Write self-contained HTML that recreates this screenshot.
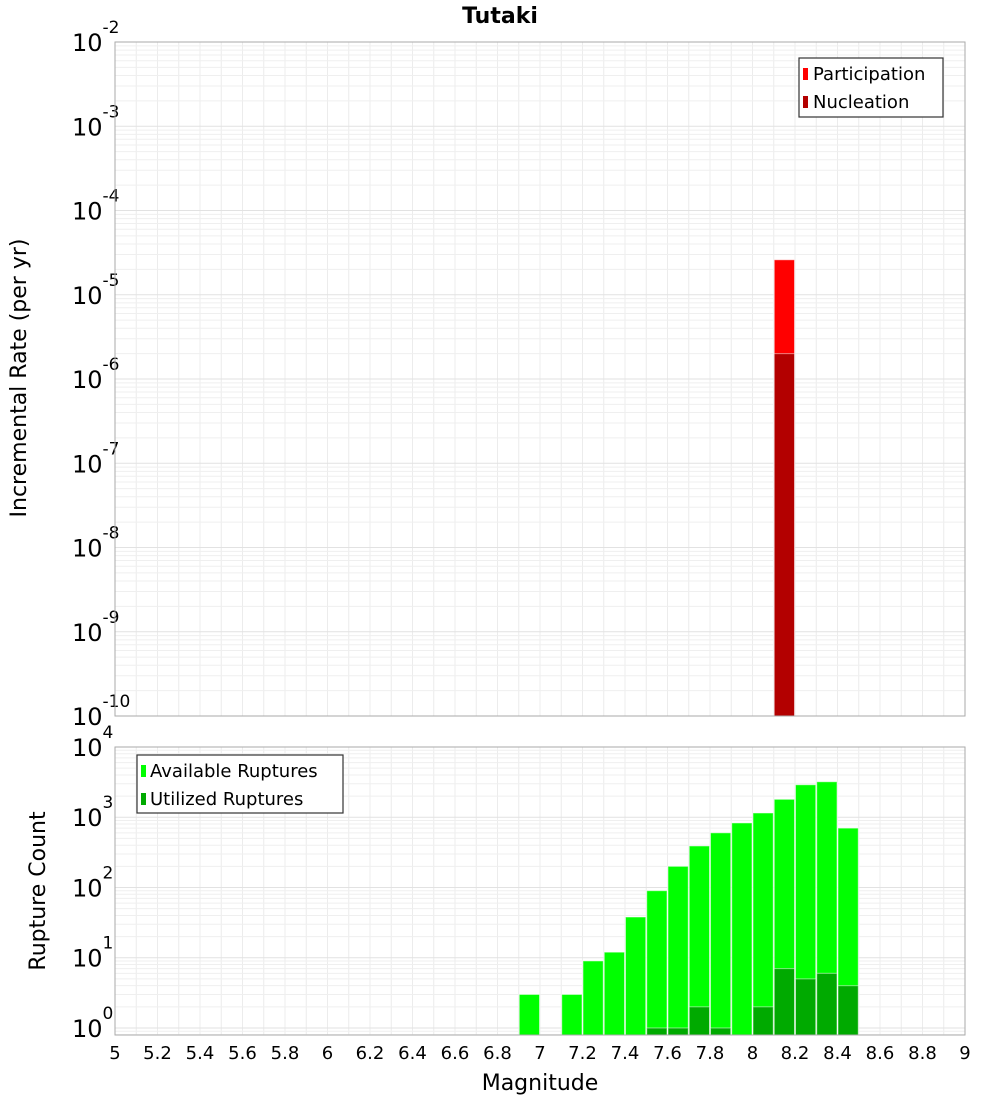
<!DOCTYPE html>
<html><head><meta charset="utf-8">
<style>
html,body{margin:0;padding:0;background:#fff;}
svg{display:block;font-family:"DejaVu Sans","Liberation Sans",sans-serif;}
</style></head>
<body>
<svg id="chart" width="1000" height="1100" viewBox="0 0 1000 1100" xmlns="http://www.w3.org/2000/svg">
<text x="500" y="23" text-anchor="middle" font-size="22" font-weight="bold">Tutaki</text>
<g id="topPlot"></g>
<g id="botPlot"></g>
<text transform="translate(26,378) rotate(-90)" text-anchor="middle" font-size="22">Incremental Rate (per yr)</text>
<text transform="translate(45,891) rotate(-90)" text-anchor="middle" font-size="22">Rupture Count</text>
<text x="540" y="1090" text-anchor="middle" font-size="22">Magnitude</text>
<g>
<rect x="799" y="58" width="144" height="59" fill="#fff" stroke="#333" stroke-width="1.2"/>
<rect x="803" y="68" width="5" height="12" fill="#ff0000"/>
<text x="813" y="80" font-size="18">Participation</text>
<rect x="803" y="96" width="5" height="12" fill="#b30000"/>
<text x="813" y="108" font-size="18">Nucleation</text>
</g>
<g>
<rect x="137" y="755" width="206" height="58" fill="#fff" stroke="#333" stroke-width="1.2"/>
<rect x="141" y="765" width="5" height="12" fill="#00ff00"/>
<text x="150" y="777" font-size="18">Available Ruptures</text>
<rect x="141" y="793" width="5" height="12" fill="#00aa00"/>
<text x="150" y="805" font-size="18">Utilized Ruptures</text>
</g>
</svg>
<script>
const rateMags = [8.15];
const participation = [2.6e-5];
const nucleation = [2.0e-6];
const countMags = [6.95,7.15,7.25,7.35,7.45,7.55,7.65,7.75,7.85,7.95,8.05,8.15,8.25,8.35,8.45];
const available = [3,3,9,12,38,90,200,390,600,830,1150,1800,2900,3200,700];
const utilMags = [7.55,7.65,7.75,7.85,8.05,8.15,8.25,8.35,8.45];
const utilized = [1,1,2,1,2,7,5,6,4];
const xTicks = [5,5.2,5.4,5.6,5.8,6,6.2,6.4,6.6,6.8,7,7.2,7.4,7.6,7.8,8,8.2,8.4,8.6,8.8,9];
const topDecades = [-10,-9,-8,-7,-6,-5,-4,-3,-2];
const botDecades = [0,1,2,3,4];

const NS="http://www.w3.org/2000/svg";
const X0=115,X1=965;
function xs(m){return X0+(m-5)/4*(X1-X0);}
const TA={y0:42,y1:716,lo:-10,hi:-2};
const BA={y0:747,y1:1035,lo:-0.1,hi:4.0};
function ys(ax,v){return ax.y1-(Math.log10(v)-ax.lo)/(ax.hi-ax.lo)*(ax.y1-ax.y0);}
function mk(tag,attrs,parent){const e=document.createElementNS(NS,tag);for(const k in attrs)e.setAttribute(k,attrs[k]);parent.appendChild(e);return e;}

function frame(g,ax,decades,name){
  for(let i=0;i<=40;i++){
    const m=5+i*0.1;
    const l=mk('line',{x1:xs(m),x2:xs(m),y1:ax.y0,y2:ax.y1,stroke:'#ececec','stroke-width':1},g);
    
    
  }
  for(let d=Math.floor(ax.lo);d<ax.hi;d++){
    for(let k=1;k<10;k++){
      const v=k*Math.pow(10,d);const lv=Math.log10(v);
      if(lv<ax.lo||lv>ax.hi)continue;
      const y=ys(ax,v);
      const l=mk('line',{x1:X0,x2:X1,y1:y,y2:y,stroke:k==1?'#e2e2e2':'#efefef','stroke-width':1},g);
      
      
    }
  }
  decades.forEach(d=>{
    const y=ys(ax,Math.pow(10,d));
    const t=mk('text',{x:72,y:y+9,'font-size':24},g);
    
    
    const s1=document.createElementNS(NS,'tspan');s1.textContent='10';t.appendChild(s1);
    const s2=document.createElementNS(NS,'tspan');s2.setAttribute('dy','-18');s2.setAttribute('font-size','17');s2.textContent=String(d);t.appendChild(s2);
  });
}
function border(g,ax){
  const r=mk('rect',{x:X0,y:ax.y0,width:X1-X0,height:ax.y1-ax.y0,fill:'none',stroke:'#aaa','stroke-width':1},g);
  
  
}
function bar(g,ax,m,v,color,name){
  const w=(xs(5.1)-xs(5));
  const y=ys(ax,v);
  const r=mk('rect',{x:xs(m)-w/2+0.5,y:y,width:w-1,height:ax.y1-y,fill:color,stroke:'#fff','stroke-opacity':0.5,'stroke-width':1},g);
  
  
}
const topG=document.getElementById('topPlot'),botG=document.getElementById('botPlot');
frame(topG,TA,topDecades,'top');
frame(botG,BA,botDecades,'bottom');
rateMags.forEach((m,i)=>bar(topG,TA,m,participation[i],'#ff0000','participation-bar'));
rateMags.forEach((m,i)=>bar(topG,TA,m,nucleation[i],'#b30000','nucleation-bar'));
countMags.forEach((m,i)=>bar(botG,BA,m,available[i],'#00ff00','available-bar'));
utilMags.forEach((m,i)=>bar(botG,BA,m,utilized[i],'#00aa00','utilized-bar'));
border(topG,TA);border(botG,BA);
xTicks.forEach(v=>{
  const t=mk('text',{x:xs(v),y:1059,'text-anchor':'middle','font-size':18},botG);
  
  
  t.textContent=String(v);
});
</script>
</body></html>
